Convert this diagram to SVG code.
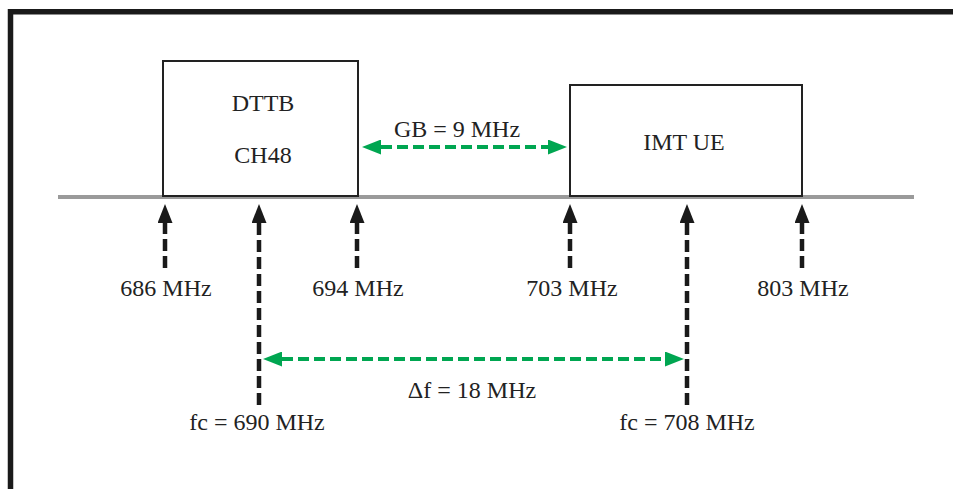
<svg xmlns="http://www.w3.org/2000/svg" width="953" height="489" viewBox="0 0 953 489">
  <style>
    .box { fill: #ffffff; stroke: #222222; stroke-width: 2; }
    .lbl { font-family: "Liberation Serif", "Times New Roman", serif; font-size: 24px; fill: #222222; text-anchor: middle; }
    .tick { stroke: #1a1a1a; stroke-width: 4.5; stroke-dasharray: 12 5; fill: none; }
    .span { stroke: #00a651; stroke-width: 4; stroke-dasharray: 11 5; fill: none; }
  </style>
  <defs>
    <marker id="ahBlack" markerUnits="userSpaceOnUse" markerWidth="19" markerHeight="15" refX="0" refY="7.5" orient="auto">
      <path d="M0,0 L19,7.5 L0,15 z" fill="#1a1a1a"/>
    </marker>
    <marker id="ahGreen" markerUnits="userSpaceOnUse" markerWidth="19" markerHeight="15" refX="0" refY="7.5" orient="auto-start-reverse">
      <path d="M0,0 L19,7.5 L0,15 z" fill="#00a651"/>
    </marker>
  </defs>
  <rect width="953" height="489" fill="#ffffff"/>
  <polyline points="10.5,489 10.5,11.75 953,11.75" fill="none" stroke="#1a1a1a" stroke-width="5.5"/>

  <line x1="58" y1="197" x2="914" y2="197" stroke="#9a9a9a" stroke-width="4"/>

  <g id="dttb">
    <rect class="box" x="163" y="61" width="195" height="135"/>
    <text class="lbl" x="263" y="111">DTTB</text>
    <text class="lbl" x="263" y="163">CH48</text>
  </g>
  <g id="imtue">
    <rect class="box" x="570" y="85" width="232" height="111"/>
    <text class="lbl" x="684" y="150">IMT UE</text>
  </g>

  <g id="connectors">
    <line class="tick" x1="165" y1="268" x2="165" y2="223" marker-end="url(#ahBlack)"/>
    <line class="tick" x1="259" y1="405" x2="259" y2="223" marker-end="url(#ahBlack)"/>
    <line class="tick" x1="357" y1="268" x2="357" y2="223" marker-end="url(#ahBlack)"/>
    <line class="tick" x1="570" y1="268" x2="570" y2="223" marker-end="url(#ahBlack)"/>
    <line class="tick" x1="687" y1="405" x2="687" y2="223" marker-end="url(#ahBlack)"/>
    <line class="tick" x1="802" y1="268" x2="802" y2="223" marker-end="url(#ahBlack)"/>
    <line class="span" x1="381" y1="147" x2="548" y2="147" marker-start="url(#ahGreen)" marker-end="url(#ahGreen)"/>
    <line class="span" x1="282" y1="359" x2="665" y2="359" marker-start="url(#ahGreen)" marker-end="url(#ahGreen)"/>
  </g>

  <g id="labels">
    <text class="lbl" x="457" y="137">GB = 9 MHz</text>
    <text class="lbl" x="166" y="296">686 MHz</text>
    <text class="lbl" x="358" y="296">694 MHz</text>
    <text class="lbl" x="572" y="296">703 MHz</text>
    <text class="lbl" x="803" y="296">803 MHz</text>
    <text class="lbl" x="472" y="398">Δf = 18 MHz</text>
    <text class="lbl" x="257" y="430">fc = 690 MHz</text>
    <text class="lbl" x="687" y="430">fc = 708 MHz</text>
  </g>
</svg>
